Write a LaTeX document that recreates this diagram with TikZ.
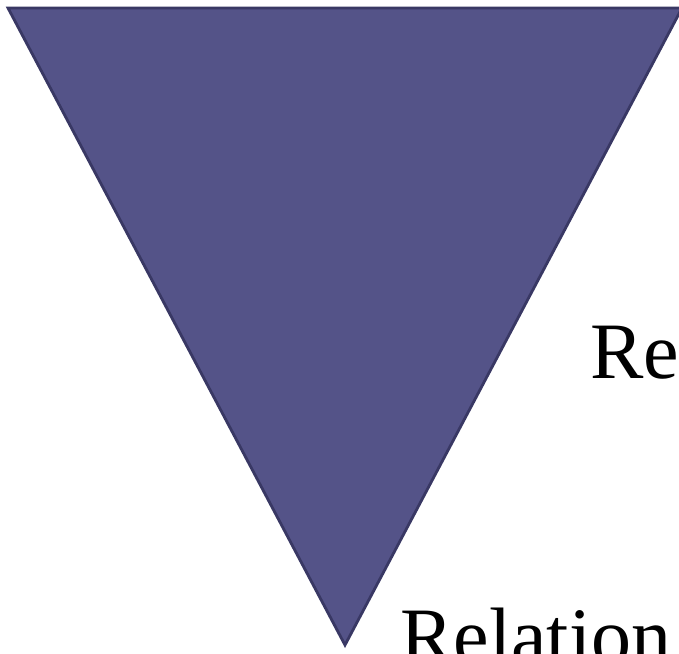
\documentclass[tikz,border=0pt]{standalone}
\usepackage{fontspec}
\setmainfont{Liberation Serif}
\usepackage{tikz}

\definecolor{funnelfill}{HTML}{545388}
\definecolor{funneledge}{HTML}{393864}

\tikzset{
  funnel/.style={fill=funnelfill, draw=funneledge, line width=2.8pt, line join=miter},
  biglabel/.style={anchor=base west, inner sep=0pt, font=\fontsize{80}{82}\selectfont}
}

\begin{document}
\begin{tikzpicture}[x=1pt, y=-1pt]
  \useasboundingbox (0,0) rectangle (679,653);
  \clip (0,0) rectangle (679,653);
  \coordinate (tl) at (8,8);
  \coordinate (tr) at (682,8);
  \coordinate (tip) at (345,645);
  \draw[funnel] (tl) -- (tr) -- (tip) -- cycle;
  \node[biglabel] (rel) at (590,378) {Rel};
  \node[biglabel] (relation) at (400,663) {Relation};
\end{tikzpicture}
\end{document}
